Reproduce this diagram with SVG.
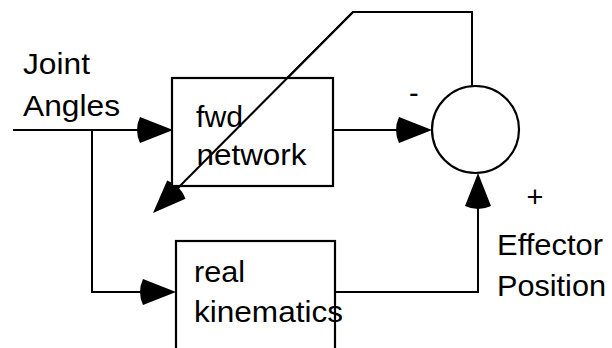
<svg xmlns="http://www.w3.org/2000/svg" xmlns:xlink="http://www.w3.org/1999/xlink" width="612" height="348" viewBox="0 0 612 348">
  <style>
    .wire { fill: none; stroke: #000; stroke-width: 2; }
    .box { fill: #fff; stroke: #000; stroke-width: 2.2; }
    .lbl { font-family: "Liberation Sans", Arial, Helvetica, sans-serif; font-size: 29px; fill: #000; }
  </style>
  <defs>
    <!-- arrowhead pointing along +x, tip at the origin -->
    <path id="head" d="M0,0 L-33,-13 Q-39,0 -33,13 Z" fill="#000"/>
  </defs>

  <rect width="612" height="348" fill="#fff"/>

  <g id="connectors">
    <!-- joint angles input -->
    <path class="wire" d="M13,130 H160"/>
    <use xlink:href="#head" transform="translate(173,130)"/>
    <!-- branch to real kinematics -->
    <path class="wire" d="M92,130 V292 H163"/>
    <use xlink:href="#head" transform="translate(176,292)"/>
    <!-- fwd network output to comparator -->
    <path class="wire" d="M333,130 H420"/>
    <use xlink:href="#head" transform="translate(432,130)"/>
    <!-- real kinematics output to comparator -->
    <path class="wire" d="M335,292 H478 V185"/>
    <use xlink:href="#head" transform="translate(478,173) rotate(-90)"/>
    <!-- error fed back through the network -->
    <path class="wire" d="M472,86 V12 H353 L162,204"/>
    <use xlink:href="#head" transform="translate(153,213) rotate(135)"/>
  </g>

  <g id="fwd-network">
    <rect class="box" x="172" y="78" width="161" height="108"/>
    <text class="lbl" x="196" y="127" textLength="47" lengthAdjust="spacingAndGlyphs">fwd</text>
    <text class="lbl" x="196.5" y="165" textLength="110" lengthAdjust="spacingAndGlyphs">network</text>
  </g>

  <!-- the feedback diagonal crosses over the box -->
  <path class="wire" d="M353,12 L162,204"/>

  <g id="real-kinematics">
    <rect class="box" x="176" y="241" width="159" height="120"/>
    <text class="lbl" x="194" y="282" textLength="51" lengthAdjust="spacingAndGlyphs">real</text>
    <text class="lbl" x="194" y="322" textLength="149" lengthAdjust="spacingAndGlyphs">kinematics</text>
  </g>

  <g id="comparator">
    <circle cx="475.5" cy="129.5" r="43.5" fill="#fff" stroke="#000" stroke-width="2.2"/>
    <text class="lbl" x="409" y="103">-</text>
    <text class="lbl" x="526.5" y="206.5">+</text>
  </g>

  <g id="joint-angles">
    <text class="lbl" x="23" y="74" textLength="67" lengthAdjust="spacingAndGlyphs">Joint</text>
    <text class="lbl" x="23" y="116" textLength="97" lengthAdjust="spacingAndGlyphs">Angles</text>
  </g>

  <g id="effector-position">
    <text class="lbl" x="497" y="255" textLength="106" lengthAdjust="spacingAndGlyphs">Effector</text>
    <text class="lbl" x="497" y="296" textLength="109" lengthAdjust="spacingAndGlyphs">Position</text>
  </g>
</svg>
